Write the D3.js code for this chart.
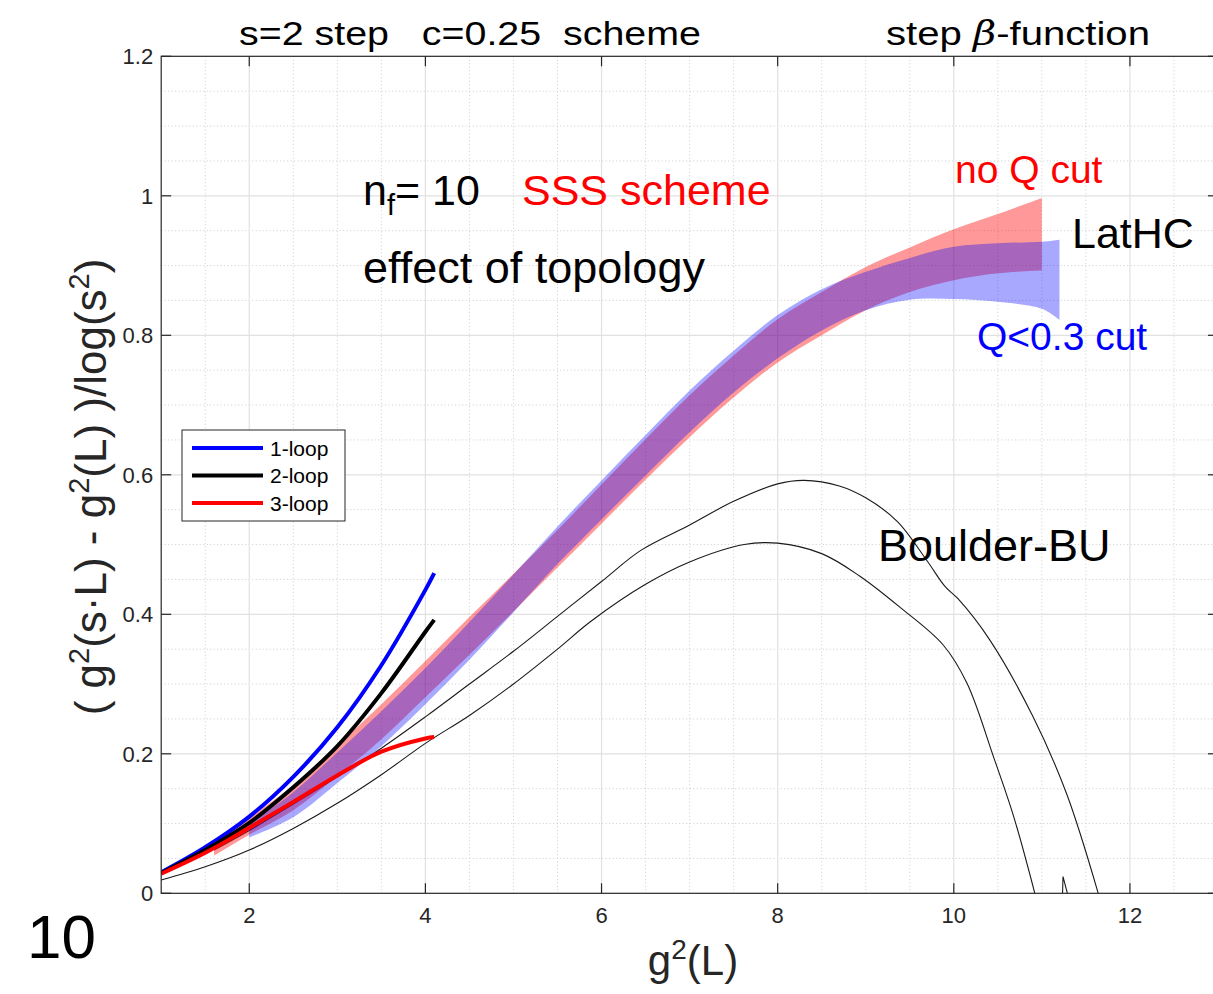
<!DOCTYPE html>
<html>
<head>
<meta charset="utf-8">
<script src="https://cdn.jsdelivr.net/npm/d3@7"></script>
<style>
  body { margin: 0; background: #fff; }
  svg { display: block; }
  text { font-family: "Liberation Sans", Arial, Helvetica, sans-serif; }
</style>
</head>
<body>
<svg id="chart" width="1213" height="994"></svg>
<script>
// ---- axis ticks ----
const xTicks = [2, 4, 6, 8, 10, 12];
const xTickLabels = ["2", "4", "6", "8", "10", "12"];
const yTicks = [0, 0.2, 0.4, 0.6, 0.8, 1, 1.2];
const yTickLabels = ["0", "0.2", "0.4", "0.6", "0.8", "1", "1.2"];

// ---- LatHC, no Q cut (band lower / upper edge) ----
const noCutX  = [1.6, 2, 2.5, 3, 3.5, 4, 4.5, 5, 5.5, 6, 6.5, 7, 7.5, 8, 8.5, 9, 9.5, 10, 10.5, 11];
const noCutLo = [0.054, 0.084, 0.119, 0.168, 0.221, 0.281, 0.342, 0.404, 0.467, 0.530, 0.593, 0.654, 0.711, 0.761, 0.800, 0.836, 0.862, 0.879, 0.889, 0.893];
const noCutHi = [0.070, 0.108, 0.155, 0.212, 0.271, 0.333, 0.396, 0.458, 0.521, 0.586, 0.651, 0.714, 0.771, 0.823, 0.862, 0.898, 0.926, 0.952, 0.974, 0.997];

// ---- LatHC, Q<0.3 cut ----
const qCutX  = [2, 2.5, 3, 3.5, 4, 4.5, 5, 5.5, 6, 6.5, 7, 7.5, 8, 8.5, 9, 9.5, 10, 10.5, 11, 11.2];
const qCutLo = [0.080, 0.109, 0.158, 0.211, 0.271, 0.335, 0.403, 0.472, 0.536, 0.599, 0.661, 0.718, 0.767, 0.807, 0.836, 0.851, 0.852, 0.848, 0.838, 0.822];
const qCutHi = [0.100, 0.145, 0.202, 0.261, 0.323, 0.389, 0.457, 0.526, 0.592, 0.657, 0.721, 0.778, 0.829, 0.866, 0.891, 0.911, 0.927, 0.932, 0.934, 0.937];

// ---- perturbative step functions ----
const loopX = [1, 1.5, 2, 2.5, 3, 3.5, 4, 4.1];
const loop1 = [0.030, 0.066, 0.110, 0.167, 0.238, 0.327, 0.435, 0.459];
const loop2 = [0.029, 0.062, 0.101, 0.152, 0.211, 0.287, 0.375, 0.392];
const loop3 = [0.028, 0.058, 0.094, 0.131, 0.169, 0.203, 0.222, 0.224];

// ---- Boulder-BU curves ----
const buUpperX = [1.6, 2, 2.5, 3, 3.5, 4, 4.5, 5, 5.5, 6, 6.45, 7, 7.5, 8, 8.3, 8.7, 9, 9.36, 9.7, 9.9, 10.05, 10.41, 10.9, 11.28, 11.64];
const buUpperY = [0.062, 0.090, 0.128, 0.167, 0.208, 0.253, 0.300, 0.347, 0.397, 0.447, 0.492, 0.528, 0.562, 0.587, 0.592, 0.584, 0.567, 0.533, 0.476, 0.440, 0.422, 0.363, 0.253, 0.143, 0.0];
const buLowerX = [1.0, 1.5, 2.0, 2.5, 3.0, 3.5, 4.0, 4.5, 5.0, 5.5, 5.88, 6.5, 7.0, 7.62, 8.0, 8.5, 8.93, 9.39, 9.88, 10.15, 10.45, 10.68, 10.92];
const buLowerY = [0.019, 0.038, 0.062, 0.093, 0.129, 0.170, 0.215, 0.255, 0.300, 0.350, 0.390, 0.443, 0.475, 0.500, 0.502, 0.487, 0.455, 0.410, 0.356, 0.301, 0.196, 0.110, 0.0];
const buStubX = [11.235, 11.24, 11.29];
const buStubY = [0.0, 0.024, 0.0];

const legendLabels = ["1-loop", "2-loop", "3-loop"];
const legendColors = ["#0000ff", "#000000", "#ff0000"];

// ---- layout ----
const W = 1213, H = 994;
const plot = { left: 161.2, right: 1218, top: 56.3, bottom: 893.3 };

const svg = d3.select("#chart");
svg.append("rect").attr("width", W).attr("height", H).attr("fill", "#fff");

const x = d3.scaleLinear().domain([1, 13]).range([plot.left, plot.right]);
const y = d3.scaleLinear().domain([0, 1.2]).range([plot.bottom, plot.top]);

svg.append("defs").append("clipPath").attr("id", "plotClip")
  .append("rect")
  .attr("x", plot.left).attr("y", plot.top)
  .attr("width", plot.right - plot.left).attr("height", plot.bottom - plot.top);

// ---- grid ----
const grid = svg.append("g");
const minorX = d3.range(1.5, 13, 0.5).filter(v => !xTicks.includes(v));
const minorY = d3.range(0.05, 1.2, 0.05).filter(v => !yTicks.some(t => Math.abs(t - v) < 1e-6));
grid.selectAll(".mx").data(minorX).join("line")
  .attr("x1", d => x(d)).attr("x2", d => x(d))
  .attr("y1", plot.top).attr("y2", plot.bottom)
  .attr("stroke", "#cccccc").attr("stroke-width", 1).attr("stroke-dasharray", "1,2.5");
grid.selectAll(".my").data(minorY).join("line")
  .attr("x1", plot.left).attr("x2", plot.right)
  .attr("y1", d => y(d)).attr("y2", d => y(d))
  .attr("stroke", "#cccccc").attr("stroke-width", 1).attr("stroke-dasharray", "1,2.5");
grid.selectAll(".Mx").data(xTicks).join("line")
  .attr("x1", d => x(d)).attr("x2", d => x(d))
  .attr("y1", plot.top).attr("y2", plot.bottom)
  .attr("stroke", "#e1e1e1").attr("stroke-width", 1.2);
grid.selectAll(".My").data(yTicks.slice(1, -1)).join("line")
  .attr("x1", plot.left).attr("x2", plot.right)
  .attr("y1", d => y(d)).attr("y2", d => y(d))
  .attr("stroke", "#e1e1e1").attr("stroke-width", 1.2);

const data = svg.append("g").attr("clip-path", "url(#plotClip)");
const smooth = d3.curveCatmullRom.alpha(0.5);

// ---- Boulder-BU thin curves ----
const thin = d3.line().x(d => x(d[0])).y(d => y(d[1])).curve(smooth);
[[buUpperX, buUpperY], [buLowerX, buLowerY]].forEach(([xs, ys]) => {
  data.append("path")
    .attr("d", thin(xs.map((v, i) => [v, ys[i]])))
    .attr("fill", "none").attr("stroke", "#1a1a1a").attr("stroke-width", 1.1);
});
data.append("path")
  .attr("d", d3.line().x(d => x(d[0])).y(d => y(d[1]))(buStubX.map((v, i) => [v, buStubY[i]])))
  .attr("fill", "none").attr("stroke", "#1a1a1a").attr("stroke-width", 1.1);

// ---- LatHC bands ----
const band = d3.area().x(d => x(d[0])).y0(d => y(d[1])).y1(d => y(d[2])).curve(smooth);
data.append("path")
  .attr("d", band(noCutX.map((v, i) => [v, noCutLo[i], noCutHi[i]])))
  .attr("fill", "#ff0000").attr("fill-opacity", 0.4);
data.append("path")
  .attr("d", band(qCutX.map((v, i) => [v, qCutLo[i], qCutHi[i]])))
  .attr("fill", "#0000ff").attr("fill-opacity", 0.34);

// ---- perturbative lines ----
const thick = d3.line().x(d => x(d[0])).y(d => y(d[1])).curve(smooth);
[loop1, loop2, loop3].forEach((ys, k) => {
  data.append("path")
    .attr("d", thick(loopX.map((v, i) => [v, ys[i]])))
    .attr("fill", "none").attr("stroke", legendColors[k]).attr("stroke-width", 4);
});

// ---- axes box & ticks ----
const axisColor = "#262626";
const ax = svg.append("g");
ax.append("rect")
  .attr("x", plot.left).attr("y", plot.top)
  .attr("width", plot.right - plot.left).attr("height", plot.bottom - plot.top)
  .attr("fill", "none").attr("stroke", axisColor).attr("stroke-width", 1.2);

const tickLen = 10;
ax.selectAll(".tb").data(xTicks).join("line")
  .attr("x1", d => x(d)).attr("x2", d => x(d))
  .attr("y1", plot.bottom).attr("y2", plot.bottom - tickLen)
  .attr("stroke", axisColor).attr("stroke-width", 1.2);
ax.selectAll(".tt").data(xTicks).join("line")
  .attr("x1", d => x(d)).attr("x2", d => x(d))
  .attr("y1", plot.top).attr("y2", plot.top + tickLen)
  .attr("stroke", axisColor).attr("stroke-width", 1.2);
ax.selectAll(".tl").data(yTicks).join("line")
  .attr("x1", plot.left).attr("x2", plot.left + tickLen)
  .attr("y1", d => y(d)).attr("y2", d => y(d))
  .attr("stroke", axisColor).attr("stroke-width", 1.2);
ax.selectAll(".tr").data(yTicks).join("line")
  .attr("x1", plot.right).attr("x2", plot.right - tickLen)
  .attr("y1", d => y(d)).attr("y2", d => y(d))
  .attr("stroke", axisColor).attr("stroke-width", 1.2);

ax.selectAll(".xl").data(xTicks).join("text")
  .attr("x", d => x(d)).attr("y", plot.bottom + 30)
  .attr("text-anchor", "middle").attr("font-size", 22).attr("fill", axisColor)
  .text((d, i) => xTickLabels[i]);
ax.selectAll(".yl").data(yTicks).join("text")
  .attr("x", plot.left - 8).attr("y", d => y(d) + 8)
  .attr("text-anchor", "end").attr("font-size", 22).attr("fill", axisColor)
  .text((d, i) => yTickLabels[i]);

// ---- axis labels ----
const xl = svg.append("text").attr("x", 693).attr("y", 975)
  .attr("text-anchor", "middle").attr("font-size", 42).attr("fill", axisColor);
xl.append("tspan").text("g");
xl.append("tspan").attr("font-size", 28).attr("dy", -16).text("2");
xl.append("tspan").attr("dy", 16).text("(L)");

const yl = svg.append("text").attr("transform", "translate(106,487) rotate(-90)")
  .attr("text-anchor", "middle").attr("font-size", 44).attr("fill", axisColor);
yl.append("tspan").text("( g");
yl.append("tspan").attr("font-size", 29).attr("dy", -17).text("2");
yl.append("tspan").attr("dy", 17).text("(s\u00b7L) - g");
yl.append("tspan").attr("font-size", 29).attr("dy", -17).text("2");
yl.append("tspan").attr("dy", 17).text("(L) )/log(s");
yl.append("tspan").attr("font-size", 29).attr("dy", -17).text("2");
yl.append("tspan").attr("dy", 17).text(")");

// ---- titles ----
svg.append("text").attr("x", 239).attr("y", 45)
  .attr("font-size", 33).attr("fill", "#000")
  .attr("textLength", 462).attr("lengthAdjust", "spacingAndGlyphs")
  .style("white-space", "pre")
  .text("s=2 step   c=0.25  scheme");
const t2 = svg.append("text").attr("x", 886).attr("y", 45)
  .attr("font-size", 33).attr("fill", "#000")
  .attr("textLength", 264).attr("lengthAdjust", "spacingAndGlyphs");
t2.append("tspan").text("step ");
t2.append("tspan").attr("font-family", "'DejaVu Serif', serif").attr("font-style", "italic").text("\u03b2");
t2.append("tspan").text("-function");

// ---- annotations ----
const nf = svg.append("text").attr("x", 363).attr("y", 205).attr("font-size", 43).attr("fill", "#000");
nf.append("tspan").text("n");
nf.append("tspan").attr("font-size", 29).attr("dy", 10).text("f");
nf.append("tspan").attr("dy", -10).text("= 10");
svg.append("text").attr("x", 522).attr("y", 205).attr("font-size", 43).attr("fill", "#ff0000").text("SSS scheme");
svg.append("text").attr("x", 363).attr("y", 283).attr("font-size", 45).attr("fill", "#000").text("effect of topology");
svg.append("text").attr("x", 955).attr("y", 183).attr("font-size", 39).attr("fill", "#ff0000").text("no Q cut");
svg.append("text").attr("x", 1072).attr("y", 248).attr("font-size", 43).attr("fill", "#000").text("LatHC");
svg.append("text").attr("x", 977).attr("y", 350).attr("font-size", 39).attr("fill", "#0000ff").text("Q<0.3 cut");
svg.append("text").attr("x", 878).attr("y", 561).attr("font-size", 45).attr("fill", "#000").text("Boulder-BU");

// ---- legend ----
const lg = svg.append("g");
lg.append("rect").attr("x", 182).attr("y", 430).attr("width", 163).attr("height", 91)
  .attr("fill", "#fff").attr("stroke", axisColor).attr("stroke-width", 1);
legendLabels.forEach((lab, i) => {
  const cy = 448 + i * 27.5;
  lg.append("line").attr("x1", 192).attr("x2", 263).attr("y1", cy).attr("y2", cy)
    .attr("stroke", legendColors[i]).attr("stroke-width", 4);
  lg.append("text").attr("x", 270).attr("y", cy + 7.5).attr("font-size", 21)
    .attr("fill", "#000").text(lab);
});

// ---- panel number ----
svg.append("text").attr("x", 27).attr("y", 958)
  .attr("font-size", 62).attr("font-weight", 300)
  .attr("font-family", "'Roboto Light', 'Open Sans Light', Roboto, 'Open Sans', sans-serif")
  .attr("fill", "#000").text("10");
</script>
</body>
</html>
